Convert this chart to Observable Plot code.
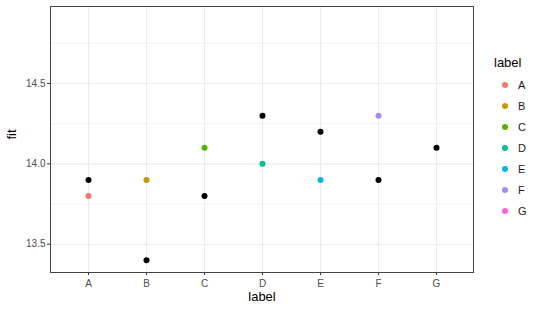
<!DOCTYPE html>
<html>
<head>
<meta charset="utf-8">
<script src="https://cdn.jsdelivr.net/npm/d3@7"></script>
<script src="https://cdn.jsdelivr.net/npm/@observablehq/plot@0.6"></script>
<style>
  body { margin: 0; background: #fff; font-family: "Liberation Sans", Arial, sans-serif; }
  #wrap { position: relative; width: 540px; height: 309px; }
  #legend { position: absolute; left: 494px; top: 54px; font-family: "Liberation Sans", Arial, sans-serif; }
  #legend .title { font-size: 13px; color: #000; height: 20px; line-height: 18px; }
  #legend .item { display: flex; align-items: center; height: 21px; font-size: 11px; color: #1a1a1a; }
  #legend .key { width: 6px; height: 6px; border-radius: 50%; margin-left: 8px; margin-right: 10px; }
</style>
</head>
<body>
<div id="wrap"></div>
<script>
const labels = ["A", "B", "C", "D", "E", "F", "G"];
const fitBlack = [13.9, 13.4, 13.8, 14.3, 14.2, 13.9, 14.1];
const fitColored = [13.8, 13.9, 14.1, 14.0, 13.9, 14.3, null];
const hueColors = ["#F8766D", "#C49A00", "#53B400", "#00C094", "#00B6EB", "#A58AFF", "#FB61D7"];
const majorTicks = [13.5, 14.0, 14.5];
const minorTicks = [13.75, 14.25, 14.75];
const yDomain = [13.324, 14.979];

const blackData = labels.map((l, i) => ({label: l, fit: fitBlack[i]}));
const colorData = labels.map((l, i) => ({label: l, fit: fitColored[i]})).filter(d => d.fit != null);

const plot = Plot.plot({
  width: 540,
  height: 309,
  marginLeft: 50,
  marginRight: 67,
  marginTop: 6,
  marginBottom: 37,
  style: {fontFamily: "Liberation Sans, Arial, sans-serif", background: "#fff"},
  x: {type: "point", domain: labels, padding: 0.6, label: null},
  y: {domain: yDomain, label: null},
  color: {domain: labels, range: hueColors},
  marks: [
    Plot.gridY(minorTicks, {stroke: "#ebebeb", strokeOpacity: 1, strokeWidth: 0.6}),
    Plot.gridY(majorTicks, {stroke: "#ebebeb", strokeOpacity: 1, strokeWidth: 1.1}),
    Plot.gridX(labels, {stroke: "#ebebeb", strokeOpacity: 1, strokeWidth: 1.1}),
    Plot.axisY(majorTicks, {tickFormat: d => d.toFixed(1), tickSize: 3, tickPadding: 2, fontSize: 10, fill: "#4d4d4d", stroke: "#333", label: null}),
    Plot.axisX(labels, {tickSize: 3, tickPadding: 4, fontSize: 10, fill: "#4d4d4d", stroke: "#333", label: null}),
    Plot.dot(colorData, {x: "label", y: "fit", fill: "label", r: 3}),
    Plot.dot(blackData, {x: "label", y: "fit", fill: "black", r: 3}),
    Plot.frame({stroke: "#444", strokeWidth: 1}),
    Plot.text(["fit"], {frameAnchor: "left", dx: -39, rotate: -90, fontSize: 13, fill: "#000"}),
    Plot.text(["label"], {frameAnchor: "bottom", dy: 28, fontSize: 13, fill: "#000"})
  ]
});
document.getElementById("wrap").appendChild(plot);

const colorScale = plot.scale("color");
const legend = document.createElement("div");
legend.id = "legend";
const title = document.createElement("div");
title.className = "title";
title.textContent = "label";
legend.appendChild(title);
labels.forEach((l, i) => {
  const item = document.createElement("div");
  item.className = "item";
  const key = document.createElement("span");
  key.className = "key";
  key.style.background = colorScale.range[i];
  const txt = document.createElement("span");
  txt.textContent = l;
  item.appendChild(key);
  item.appendChild(txt);
  legend.appendChild(item);
});
document.getElementById("wrap").appendChild(legend);
</script>
</body>
</html>
